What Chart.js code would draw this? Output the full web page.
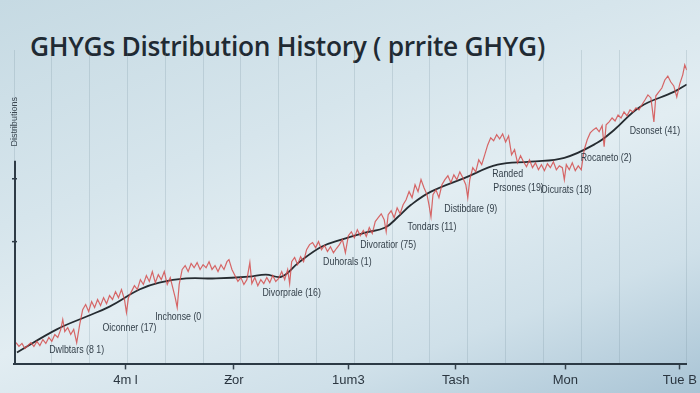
<!DOCTYPE html>
<html>
<head>
<meta charset="utf-8">
<script src="https://cdn.jsdelivr.net/npm/chart.js@4.4.1/dist/chart.umd.min.js"></script>
<style>
  html, body { margin: 0; padding: 0; }
  body {
    width: 700px; height: 393px; overflow: hidden; position: relative;
    background: linear-gradient(160deg, #c6dae3 0%, #d6e5ec 35%, #e2edf2 55%, #cfe0e9 78%, #a9c4d5 100%);
  }
  #title {
    position: absolute; left: 30px; top: 27px; margin: 0;
    font-family: "Open Sans", sans-serif; font-weight: 600; font-size: 27px;
    color: #1f2a33; letter-spacing: -0.3px; white-space: nowrap;
    transform: scaleX(0.975); transform-origin: left top;
  }
  #chart { position: absolute; left: 0; top: 0; }
</style>
</head>
<body>
<h1 id="title">GHYGs Distribution History ( prrite GHYG)</h1>
<canvas id="chart" width="700" height="393"></canvas>
<script>
// ---- Data (x in days, y in index units) ----
const redDays = [1, 2.5, 4, 5.5, 7, 8.5, 10, 11.5, 13, 14.5, 16, 17.5, 19, 20.5, 22, 23.5, 24.5, 25.5, 27, 28.5,
  30, 31.5, 33, 34.5, 36, 37.5, 39, 40.5, 42, 43.5, 45, 46.5, 48, 49.5, 51, 52.5, 54, 55.5, 56.5, 57.5,
  59, 60.5, 62, 63.5, 65, 66.5, 68, 69.5, 71, 72.5, 74, 75.5, 77, 78.5, 80, 81, 82, 83, 84.5, 86,
  87.5, 89, 90.5, 92, 93.5, 95, 96.5, 98, 99.5, 101, 102.5, 104, 105.5, 107, 108, 109.5, 111, 112.5, 114, 115.5,
  117, 118.5, 119.5, 121, 122.5, 124, 125.5, 127, 128.5, 130, 131.5, 133, 134.5, 136, 137.5, 138.5, 139.5, 141, 142.5, 144,
  145.5, 147, 148.5, 150, 151.5, 153, 154.5, 156, 157.5, 159, 160.5, 162, 163.5, 165, 166.5, 168, 169.5, 171, 172.5, 174,
  175.5, 177, 178.5, 180, 181.5, 183, 184.5, 186, 187, 188, 189.5, 191, 192.5, 194, 195.5, 197, 198.5, 200, 201.5, 203,
  204.5, 206, 207.5, 208.5, 209.5, 210.5, 212, 213.5, 215, 216.5, 218, 219.5, 221, 222.5, 224, 225.5, 227, 228, 229, 230.5,
  232, 233.5, 235, 236.5, 238, 239.5, 241, 242.5, 244, 245.5, 247, 248.5, 250, 251.5, 253, 254.5, 256, 257.5, 259, 260.5,
  262, 263.5, 265, 266.5, 268, 269.5, 271, 272.5, 274, 275.5, 276.5, 277.5, 279, 280.5, 282, 283.5, 285, 286.5, 288, 289.5,
  291, 292.5, 294, 295.5, 296.5, 297.5, 299, 300.5, 302, 303.5, 305, 306.5, 308, 309.5, 311, 312.5, 314, 315.5, 317, 318.5,
  320, 321.5, 322.5, 324, 325.5, 327, 328.5, 330, 331.5, 333, 334.5, 336, 337, 338];
const redValues = [7.3, 6, 7, 5.3, 6.3, 7.3, 6, 7.7, 6.3, 8.3, 7, 9, 7.7, 10, 9, 11.7, 15, 11, 12.3, 10,
  11.7, 7.3, 13.3, 18.3, 20, 17.7, 21, 19, 21.7, 19.7, 22.3, 20.3, 23, 21.7, 24.3, 22.3, 25, 21.7, 17.3, 22.3,
  24.3, 26.3, 25, 28.3, 26.7, 29.7, 27.7, 31, 27.3, 30, 28.3, 31, 26.7, 29, 25, 22.3, 19, 26.7, 31.7, 33,
  31, 33.7, 32.3, 34, 31.7, 33.3, 32.3, 34.3, 31.7, 33, 31, 33.3, 31.7, 34.3, 35, 31.7, 29.7, 27.7, 29, 26.7,
  28.3, 34, 27, 29, 26.3, 28.3, 27, 29, 27.3, 29.7, 27.7, 28.7, 31, 28.3, 31.7, 27, 34.3, 35.7, 33.3, 36,
  34.3, 38.3, 40, 40.7, 39, 41, 38.3, 39.7, 37.7, 39.3, 37.3, 38.7, 40, 41.7, 37.3, 43, 44.3, 42.3, 45, 43,
  44.7, 42.7, 45.7, 43.7, 47.7, 49, 50.3, 48.3, 44.3, 50, 51.3, 49, 52.3, 50.3, 53.3, 55, 57.7, 55.7, 60, 57.7,
  61.7, 59, 56.7, 53.3, 49.3, 56.7, 58.3, 55.7, 60, 61.7, 63, 60.7, 63.3, 61.7, 64.3, 62.3, 60, 55.7, 61.7, 65.7,
  64.3, 68.3, 66.7, 70, 73.3, 75.7, 74.7, 76.7, 75.3, 77, 74.3, 76.3, 70, 71.7, 67.3, 69.7, 67.7, 66, 68.3, 65.7,
  67.3, 65, 66.7, 64.7, 67, 65.7, 67.7, 65, 66.3, 65.7, 61.7, 66.7, 65, 67.3, 64.7, 66.3, 65, 71.7, 75, 77.3,
  78.3, 79, 77.7, 79.7, 72.7, 80, 81, 82.3, 81.3, 83.3, 82.3, 84.3, 83, 85, 84.3, 85.7, 85, 86.7, 88.3, 90,
  89, 81, 89.7, 91, 92.3, 95, 96.3, 94.3, 93, 89.3, 93.7, 96.7, 100, 98.3];

const trendDays = [1.5, 21.5, 36.5, 48, 63, 73, 86.5, 101.5, 118, 126.5, 134.5, 143, 154.5, 164.5,
  176.5, 186.5, 193, 199.5, 209.5, 226.5, 243, 259.5, 276.5, 293, 301.5, 314.5, 331.5, 338];
const trendValues = [4, 11.7, 16, 19.3, 25, 27.3, 28.7, 28.7, 29.3, 30, 29.3, 34, 39.3, 41.7,
  44, 45.7, 49.3, 53.3, 57.7, 62.3, 66.7, 67.7, 69, 74, 78.3, 86, 91, 93.5];

const tickDays = [56, 110.5, 168, 222, 277, 334.5];
const tickLabels = ["4m l", "Ƶor", "1um3", "Tash", "Mon", "Tue B"];

const noteLabels = ["Dwlbtars (8 1)", "Oiconner (17)", "Inchonse (0", "Divorprale (16)", "Duhorals (1)",
  "Divoratior (75)", "Tondars (11)", "Distibdare (9)", "Randed", "Prsones (19)", "Oicurats (18)",
  "Rocaneto (2)", "Dsonset (41)"];
const noteDays = [31.5, 58, 82.5, 139.5, 167.5, 188, 210, 229.5, 248, 253.5, 277.5, 297.5, 322];
const noteValues = [4.7, 12, 15.7, 23.7, 34.3, 39.7, 46, 52, 63.7, 59, 58.3, 69, 78];

const yAxisLabel = "Distributions";

// ---- Helpers ----
function pairs(xs, ys) {
  return xs.map((x, i) => ({ x: x, y: ys[i] }));
}

// notes, y axis line and its label
const decorations = {
  id: "decorations",
  afterDatasetsDraw(chart) {
    const c = chart.ctx;
    const xs = chart.scales.x, ys = chart.scales.y;
    c.save();
    c.fillStyle = "#35414b";
    c.font = "10.5px 'Liberation Sans', sans-serif";
    c.textAlign = "center";
    c.textBaseline = "middle";
    // condensed look: squeeze each note horizontally
    noteLabels.forEach((t, i) => {
      c.save();
      c.translate(xs.getPixelForValue(noteDays[i]), ys.getPixelForValue(noteValues[i]));
      c.scale(0.84, 1);
      c.fillText(t, 0, 0);
      c.restore();
    });

    // y axis line (drawn only on the lower part like the reference)
    const x0 = chart.chartArea.left + 1;
    c.strokeStyle = "#2e3b46";
    c.lineWidth = 2;
    c.beginPath();
    c.moveTo(x0, ys.getPixelForValue(68));
    c.lineTo(x0, chart.chartArea.bottom);
    c.stroke();
    c.lineWidth = 1.5;
    [41, 62].forEach(v => {
      const py = ys.getPixelForValue(v);
      c.beginPath();
      c.moveTo(x0 - 3, py);
      c.lineTo(x0 + 2, py);
      c.stroke();
    });

    c.translate(x0, ys.getPixelForValue(81));
    c.rotate(-Math.PI / 2);
    c.font = "9px 'Liberation Sans', sans-serif";
    c.fillStyle = "#3a4650";
    c.fillText(yAxisLabel, 0, 0);
    c.restore();
  }
};

// ---- Chart ----
const ctx = document.getElementById("chart").getContext("2d");

const chart = new Chart(ctx, {
  type: "line",
  data: {
    datasets: [{
      label: "Distribution",
      data: pairs(redDays, redValues),
      borderColor: "rgba(212, 78, 78, 0.85)",
      borderWidth: 1.2,
      pointRadius: 0,
      tension: 0
    }, {
      label: "Trend",
      data: pairs(trendDays, trendValues),
      borderColor: "#262c31",
      borderWidth: 1.8,
      pointRadius: 0,
      tension: 0.4
    }]
  },
  options: {
    responsive: false,
    animation: false,
    layout: { padding: { left: 14, right: 10, top: 50, bottom: 2 } },
    plugins: { legend: { display: false }, tooltip: { enabled: false } },
    scales: {
      x: {
        type: "linear", min: 0, max: 338,
        afterBuildTicks: axis => { axis.ticks = tickDays.map(v => ({ value: v })); },
        ticks: {
          autoSkip: false, maxRotation: 0, padding: 3,
          color: "#2b3640",
          font: { family: "'Liberation Sans', sans-serif", size: 13 },
          callback: (v, i) => tickLabels[i]
        },
        grid: { color: "transparent", tickColor: "#34424d", tickLength: 5, tickWidth: 1.5 },
        border: { color: "#2c3a45", width: 2 }
      },
      x2: {
        type: "linear", position: "top", min: 0, max: 338,
        ticks: { display: false, stepSize: 19 },
        grid: { color: "rgba(110, 135, 150, 0.22)", drawTicks: false },
        border: { display: false }
      },
      y: {
        display: false, min: 0, max: 105
      }
    }
  },
  plugins: [decorations]
});
</script>
</body>
</html>
